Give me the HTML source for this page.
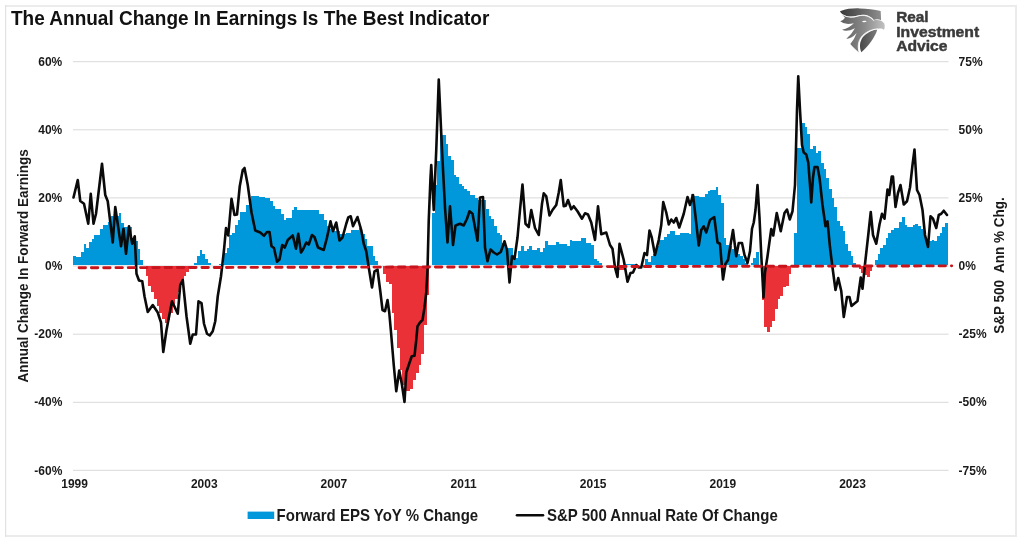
<!DOCTYPE html>
<html lang="en"><head><meta charset="utf-8"><title>The Annual Change In Earnings Is The Best Indicator</title>
<style>html,body{margin:0;padding:0;background:#fff;}body{width:1024px;height:546px;overflow:hidden;font-family:"Liberation Sans",sans-serif;}svg{display:block;will-change:transform;}text{font-family:"Liberation Sans",sans-serif;font-weight:bold;}</style>
</head><body>
<svg width="1024" height="546" viewBox="0 0 1024 546">
<rect x="0" y="0" width="1024" height="546" fill="#ffffff"/>
<g fill="#ebebeb"><rect x="5" y="5" width="1012" height="1.9"/><rect x="1015" y="5" width="2" height="532"/><rect x="5" y="535" width="1012" height="2"/><rect x="5" y="5" width="1.2" height="532" fill="#e2e2e2"/></g>
<g stroke="#d9d9d9" stroke-width="1">
<line x1="73" y1="61.7" x2="948.5" y2="61.7"/>
<line x1="73" y1="129.8" x2="948.5" y2="129.8"/>
<line x1="73" y1="197.9" x2="948.5" y2="197.9"/>
<line x1="73" y1="266" x2="948.5" y2="266"/>
<line x1="73" y1="334.2" x2="948.5" y2="334.2"/>
<line x1="73" y1="402.3" x2="948.5" y2="402.3"/>
<line x1="73" y1="470.3" x2="948.5" y2="470.3"/>
</g>
<g fill="#0098DB" shape-rendering="crispEdges">
<path d="M72.85 265V256.3H75.55V256.8H80.95V252.4H83.65V243.6H86.35V248.2H89.05V241.9H91.75V238.9H94.45V235.4H99.86V228.9H102.56V225.3H107.96V222H110.66V216H118.76V213H121.46V223H124.16V226.6H132.26V240.6H137.66V249.4H140.37V260H143.07V265Z"/>
<path d="M194.38 265V262.5H197.08V256H199.78V250H202.48V253.75H205.18V258.75H207.88V263H210.58V265Z"/>
<path d="M218.68 265V263.75H224.08V252.5H226.79V247.5H229.49V235H232.19V232.5H234.89V225H237.59V220H240.29V212H245.69V205H251.09V195.5H259.19V197H264.59V198H270V201.25H272.7V206.25H275.4V208.75H280.8V213.75H283.5V219.5H286.2V217.5H291.6V210H294.3V207H297V210H305.1V209.5H315.91V210H318.61V213.75H324.01V220H326.71V226.25H329.41V228.75H332.11V231H340.21V233.75H345.61V232.5H351.01V230H359.12V228H361.82V233.75H364.52V238.75H367.22V246.25H372.62V256.25H375.32V261.25H378.02V265Z"/>
<path d="M432.03 265V212.5H434.73V185H437.43V161.25H440.13V135H445.54V143.75H448.24V156.25H450.94V159.5H453.64V174.5H456.34V177H459.04V184.25H461.74V185.75H464.44V188.75H467.14V191.25H469.84V195H475.24V197.5H477.94V200H486.04V208.75H488.75V216.25H491.45V218.75H494.15V226.25H496.85V232.5H499.55V235H502.25V242.5H504.95V247.5H513.05V255H515.75V257.5H518.45V251.25H521.15V246.25H523.85V250.5H526.55V248.75H529.25V246.25H531.95V250H537.36V247.5H540.06V252H542.76V247.5H545.46V241.25H548.16V245H556.26V242H558.96V243.75H567.06V245.5H569.76V239.5H572.46V241.25H580.57V238H585.97V242.5H591.37V245H594.07V258.75H596.77V261.25H599.47V263H602.17V265Z"/>
<path d="M626.48 265V264.2H637.28V265Z"/>
<path d="M645.38 265V258.75H648.08V262H650.78V256.25H653.48V253.75H656.18V246.25H658.88V240H664.29V237H666.99V233.75H669.69V231.25H675.09V235H680.49V233.25H688.59V234.25H691.29V193.75H693.99V195.5H699.39V196.75H704.79V193.75H707.5V191.25H710.2V189.5H715.6V187H718.3V195H721V202.5H723.7V237.5H726.4V245H729.1V246.25H731.8V248.75H734.5V252.5H737.2V253.75H739.9V256.25H742.6V258.75H745.3V262.5H748V265Z"/>
<path d="M750.7 265V262.5H753.41V258H756.11V252H758.81V265Z"/>
<path d="M793.91 265V232.5H796.62V148H802.02V122.5H804.72V127H807.42V133.75H810.12V148.75H812.82V146.25H815.52V152.5H818.22V150.5H820.92V163H823.62V169.25H826.32V177.5H829.02V188.75H831.72V197.5H834.42V207H837.12V221.25H839.83V226.25H842.53V231.25H845.23V243.75H847.93V250.5H850.63V256.25H853.33V262.5H856.03V265Z"/>
<path d="M874.93 265V260H877.63V253.75H880.33V248H883.04V244.5H885.74V238H888.44V232.5H891.14V230H893.84V228H899.24V222H901.94V217H904.64V225H907.34V227H912.74V225H915.44V223.75H918.14V225.5H920.84V228.75H923.54V236.25H926.25V241.25H931.65V240H934.35V241.25H937.05V235.5H939.75V232.5H942.45V227H945.15V223H947.85V265Z"/>
</g>
<g fill="#EB3138" shape-rendering="crispEdges">
<path d="M145.77 265.8V275.6H148.47V285.6H151.17V292H153.87V299H156.57V306H159.27V313H161.97V319H164.67V322.5H167.37V320H170.07V313H172.77V306H175.47V299H178.17V292H180.87V285H183.58V275.6H186.28V271.6H188.98V265.8Z"/>
<path d="M383.42 265.8V273.75H386.12V281.9H388.82V283.75H391.52V312.5H394.22V330H396.92V347.5H399.62V370H402.33V385H405.03V391H410.43V389H413.13V380H415.83V372.5H418.53V365H421.23V354H423.93V325H426.63V295H429.33V265.8Z"/>
<path d="M615.67 265.8V270H626.48V265.8Z"/>
<path d="M761.51 265.8V300H764.21V327H766.91V332H769.61V327H772.31V320.5H775.01V309H777.71V299H780.41V296H783.11V287H785.81V286H788.51V274.4H791.21V265.8Z"/>
<path d="M858.73 265.8V268.75H861.43V272.5H864.13V274.5H866.83V277H869.53V271H872.23V265.8Z"/>
</g>
<path d="M73.5 197.5L77.75 180L80.25 201L84 203.75L88.25 223.75L90.75 193.75L93.5 223.75L96 213.75L102 163.75L105.25 195L107.75 201.25L112.75 242.5L115.25 207L121 246.25L123.5 228.75L126 253.75L129 226.25L132.25 243.75L134.75 236.25L136.5 273.75L139 280.5L142.25 281.25L144.5 296.25L147.75 312L152.75 305L157.75 312.5L161 322.5L163.25 352L166.5 330L172 301.25L177.75 313.75L180.25 285L182.75 280L186.5 316.25L190.25 343.75L192.75 334.5L196 334.5L198.5 301.25L201.5 303L204 323.75L207 333.75L209.75 335.5L212.75 331.25L215.25 321.25L217.75 296.25L221 276.25L224 250L226 228L228.25 235.5L231.5 198.75L234.5 215L237 214.5L239.75 186.25L242.75 170L244.5 168L247.75 185L251.5 212.5L255.25 230.5L260.25 232.5L264 235.75L267 232L269.5 232L271.5 246.25L274 248L277 261.75L279.5 259.5L282.25 245L284.75 247.5L287.75 240L292.75 235.5L296 248.75L298.25 233.75L301 252.5L303 249.5L306.25 242.5L308.75 244.5L312 235L314.5 237L318 247.5L323.75 250L327 237.5L330.5 221.25L333 231.25L336.25 222.5L339.5 240.5L342.5 237.5L346.25 223.75L348.25 217.5L350.75 216.25L353 226.25L357.5 217L361.25 230L363.75 243.75L366.25 251.25L368.75 267.5L372 287.5L374.5 271.25L377.5 269.5L380.5 293L382.5 310L385 311.25L387.5 300L389.25 312.5L391.25 335L393.75 365L396.25 391.25L399.25 370.5L402 385L404.5 402L406.25 372.5L408.75 365L411.75 356.25L414.5 355.75L416.25 340L417.5 326.25L420 322.5L422.5 320L424.5 307.5L426.25 292.5L427.5 270L428.75 220L430.5 177.5L431.25 165L433.75 210L436.25 150L438.75 79.5L442 150L445 207.5L447.5 242.5L450 206.25L453 245L455.5 225.5L460 223.75L463.75 225.5L467 218.75L469.5 211.25L472.5 213.75L477.5 240.75L480 197.5L483 197L485 247.5L487.5 261.25L490.5 249.5L493.75 252.5L497 254.5L500.75 252L504.5 241.25L507 250L509.5 282.5L512 256.25L514.5 258.75L517.5 237.5L520 210L522.5 184.5L525.5 223.75L528.75 227L531.25 210L535 228L538.75 235L542 203.75L543.75 193.25L546.25 196.25L549.5 215.5L552.5 210L556.25 205L558.75 192.5L560.75 180L563.75 206.25L565.75 205.75L568 200L571.25 209.25L573.75 206.25L577.5 211.25L582 218.75L585 213.25L588 214.5L591.25 222.5L595 240L598 206.25L601.25 234.25L606.25 232.5L610 245L612.5 248.75L615 267.5L617.5 277L619.5 243.75L623.75 260L627.5 281.75L630.5 273L633 272.5L636.25 265L638.75 267.5L641.25 267.5L644.5 253L647 255L649.5 230.5L651.75 237.5L655 255L658.75 240L661.25 225L663.25 202L666.25 212.5L668.75 224.5L671.25 219.5L673.75 222.5L676.25 218L679.25 227.5L683.75 213.75L687.5 197L690 205L693 195L695.5 216.25L698.75 245.5L701.25 230L703.75 226.25L706.25 232.5L710 220L714.25 217L717.5 242.5L720 243.75L723 279.5L725.5 263.75L728 260L733 230L736.25 256.25L738.75 243L742 243L744.5 255L747.5 263L750 251.25L752 228.75L753.75 222.5L755.5 210L757.5 185L759.5 217.5L761.25 255L763.5 297.5L765 272.5L767.5 256.25L771.25 229L773.25 235.5L776.75 213L780.75 231.25L784.5 213L787 209.5L789.75 219.5L792.5 211.25L795 185L797 110L798.25 76.25L800 110L802 145L803.75 152.5L806.25 154.5L808.25 162.5L810 185L811.25 202.5L813 177.5L814.5 167L817.5 167L819.5 177.5L822.5 205L825.5 226.25L827.5 221.25L830 247.5L832.5 267.5L835.5 290L838.25 278L841.25 291L843.75 317L847 297L849.5 297L851.5 306L857.5 301L860.75 277.5L862.5 288.75L865 264L868.25 235L870.75 212L873 235L876.25 243.75L879.5 224.5L882 213.75L884.5 218.75L887.5 189.5L889.25 195L891.75 176.5L893 176.5L895.5 207L898 193L900.5 185L903.75 204.5L907 201.25L910 187.5L912.5 165L914.5 149.5L917 190L919.5 195L922.5 210L925 235L928 247L930.5 216.25L933 218.75L936.25 228L938.75 215L941.25 213.75L943.75 210.75L947 215" fill="none" stroke="#0a0a0a" stroke-width="2.6" stroke-linejoin="round" stroke-linecap="round"/>
<line x1="79.1" y1="267.75" x2="951.7" y2="265.85" stroke="#C8141C" stroke-width="2.9" stroke-dasharray="6.4 5.886" stroke-linecap="round"/>
<text transform="translate(11 24.9) scale(1 1.085)" font-size="19" fill="#111" text-anchor="start">The Annual Change In Earnings Is The Best Indicator</text>
<text transform="translate(62.3 66.15) scale(1 1.085)" font-size="12" fill="#1a1a1a" text-anchor="end">60%</text>
<text transform="translate(62.3 133.95) scale(1 1.085)" font-size="12" fill="#1a1a1a" text-anchor="end">40%</text>
<text transform="translate(62.3 201.95) scale(1 1.085)" font-size="12" fill="#1a1a1a" text-anchor="end">20%</text>
<text transform="translate(62.3 269.65) scale(1 1.085)" font-size="12" fill="#1a1a1a" text-anchor="end">0%</text>
<text transform="translate(62.3 338.05) scale(1 1.085)" font-size="12" fill="#1a1a1a" text-anchor="end">-20%</text>
<text transform="translate(62.3 405.75) scale(1 1.085)" font-size="12" fill="#1a1a1a" text-anchor="end">-40%</text>
<text transform="translate(62.3 474.55) scale(1 1.085)" font-size="12" fill="#1a1a1a" text-anchor="end">-60%</text>
<text transform="translate(958.6 66.15) scale(1 1.085)" font-size="12" fill="#1a1a1a" text-anchor="start">75%</text>
<text transform="translate(958.6 133.95) scale(1 1.085)" font-size="12" fill="#1a1a1a" text-anchor="start">50%</text>
<text transform="translate(958.6 201.95) scale(1 1.085)" font-size="12" fill="#1a1a1a" text-anchor="start">25%</text>
<text transform="translate(958.6 269.65) scale(1 1.085)" font-size="12" fill="#1a1a1a" text-anchor="start">0%</text>
<text transform="translate(958.6 338.05) scale(1 1.085)" font-size="12" fill="#1a1a1a" text-anchor="start">-25%</text>
<text transform="translate(958.6 405.75) scale(1 1.085)" font-size="12" fill="#1a1a1a" text-anchor="start">-50%</text>
<text transform="translate(958.6 474.55) scale(1 1.085)" font-size="12" fill="#1a1a1a" text-anchor="start">-75%</text>
<text transform="translate(74.6 488.3) scale(1 1.085)" font-size="12" fill="#1a1a1a" text-anchor="middle">1999</text>
<text transform="translate(204.25 488.3) scale(1 1.085)" font-size="12" fill="#1a1a1a" text-anchor="middle">2003</text>
<text transform="translate(333.9 488.3) scale(1 1.085)" font-size="12" fill="#1a1a1a" text-anchor="middle">2007</text>
<text transform="translate(463.55 488.3) scale(1 1.085)" font-size="12" fill="#1a1a1a" text-anchor="middle">2011</text>
<text transform="translate(593.2 488.3) scale(1 1.085)" font-size="12" fill="#1a1a1a" text-anchor="middle">2015</text>
<text transform="translate(722.85 488.3) scale(1 1.085)" font-size="12" fill="#1a1a1a" text-anchor="middle">2019</text>
<text transform="translate(852.5 488.3) scale(1 1.085)" font-size="12" fill="#1a1a1a" text-anchor="middle">2023</text>
<text transform="translate(27.6 265.9) rotate(-90) scale(1 1.085)" font-size="13.5" fill="#1a1a1a" text-anchor="middle">Annual Change In Forward Earnings</text>
<text transform="translate(1004 265.5) rotate(-90) scale(1 1.085)" font-size="13.5" fill="#1a1a1a" text-anchor="middle" xml:space="preserve">S&amp;P 500  Ann % Chg.</text>
<rect x="247.6" y="511.6" width="26.6" height="7.4" fill="#0098DB"/>
<text transform="translate(276.6 520.5) scale(1 1.085)" font-size="15" fill="#1a1a1a" text-anchor="start">Forward EPS YoY % Change</text>
<line x1="517" y1="515.3" x2="543" y2="515.3" stroke="#0a0a0a" stroke-width="2.6" stroke-linecap="round"/>
<text transform="translate(547 520.5) scale(1 1.085)" font-size="15" fill="#1a1a1a" text-anchor="start">S&amp;P 500 Annual Rate Of Change</text>
<g id="logo">
<defs>
<linearGradient id="gCrest" x1="0" y1="0" x2="1" y2="0"><stop offset="0" stop-color="#383838"/><stop offset="0.6" stop-color="#6a6a6a"/><stop offset="1" stop-color="#8e8e8e"/></linearGradient>
<linearGradient id="gBody" x1="0" y1="0" x2="1" y2="0"><stop offset="0" stop-color="#5e5e5e"/><stop offset="0.55" stop-color="#8a8a8a"/><stop offset="1" stop-color="#c2c2c2"/></linearGradient>
<linearGradient id="gShield" x1="0" y1="0" x2="1" y2="0"><stop offset="0" stop-color="#474747"/><stop offset="1" stop-color="#7d7d7d"/></linearGradient>
</defs>
<g transform="translate(832 2) scale(0.10631)">
<path d="M75 88C140 62 200 58 260 60C330 62 400 70 458 85L462 172C440 160 415 160 392 170C368 128 300 108 242 128C182 145 122 138 88 108Z" fill="url(#gCrest)"/>
<path d="M90 114C130 150 190 152 245 134C300 117 362 137 390 174C425 164 472 170 492 203C500 228 496 250 488 262C472 247 452 246 436 252C375 252 300 288 264 348C246 388 240 432 254 478L262 482C225 452 196 424 172 396Q214 346 232 292Q176 352 135 345Q190 296 216 246Q140 286 95 262Q165 242 206 200Q122 222 78 182Q108 172 122 148Z" fill="url(#gBody)"/>
<path d="M86 110C130 147 190 150 245 132C300 115 362 135 391 173" fill="none" stroke="#fff" stroke-width="7" stroke-linecap="round"/>
<path d="M276 472C254 422 262 372 286 336C320 290 380 262 426 258C406 330 346 410 276 472Z" fill="url(#gShield)"/>
<path d="M260 482C238 430 244 376 271 336C304 286 370 256 434 252" fill="none" stroke="#fff" stroke-width="7"/>
<ellipse cx="305" cy="183" rx="21" ry="7" fill="#fff" transform="rotate(-4 305 183)"/>
</g>
<g font-size="14" fill="#3a3a3a" stroke="#3a3a3a" stroke-width="0.45" stroke-linejoin="round"><text transform="translate(896.2 22.4) scale(1 1.04)" textLength="32.4" lengthAdjust="spacingAndGlyphs">Real</text><text transform="translate(896.2 37) scale(1 1.04)" textLength="83" lengthAdjust="spacingAndGlyphs">Investment</text><text transform="translate(896.2 50.9) scale(1 1.04)" textLength="51.3" lengthAdjust="spacingAndGlyphs">Advice</text></g>
</g>
</svg></body></html>
